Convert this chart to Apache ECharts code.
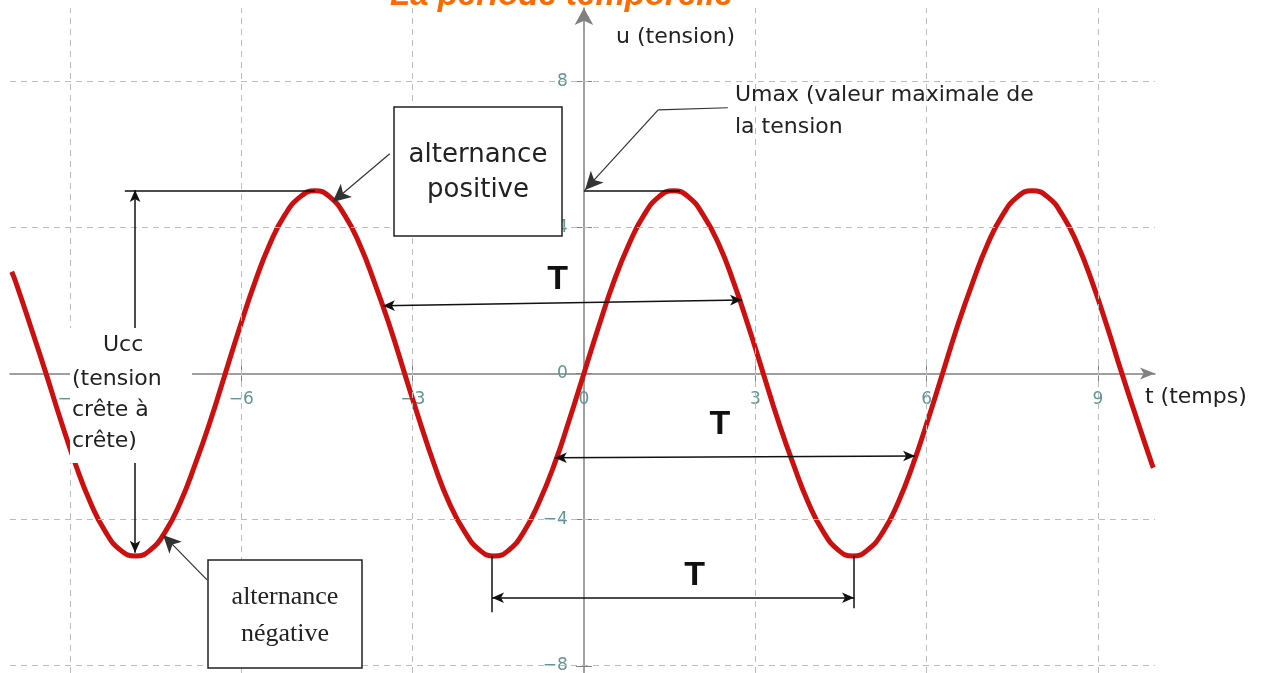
<!DOCTYPE html>
<html><head><meta charset="utf-8">
<script src="https://cdn.jsdelivr.net/npm/echarts@6/dist/echarts.min.js"></script>
<style>html,body{margin:0;padding:0;background:#fff}#c{width:1263px;height:673px}</style>
</head><body><div id="c"></div>
<script>
// ---- data ----
const tValues = [-10.02, -9.95, -9.69, -9.42, -9.16, -8.90, -8.64, -8.38, -8.12, -7.85, -7.59, -7.33, -7.07, -6.81, -6.54, -6.28, -6.02, -5.76, -5.50, -5.24, -4.97, -4.71, -4.45, -4.19, -3.93, -3.67, -3.40, -3.14, -2.88, -2.62, -2.36, -2.09, -1.83, -1.57, -1.31, -1.05, -0.79, -0.52, -0.26, 0, 0.26, 0.52, 0.79, 1.05, 1.31, 1.57, 1.83, 2.09, 2.36, 2.62, 2.88, 3.14, 3.40, 3.67, 3.93, 4.19, 4.45, 4.71, 4.97, 5.24, 5.50, 5.76, 6.02, 6.28, 6.54, 6.81, 7.07, 7.33, 7.59, 7.85, 8.12, 8.38, 8.64, 8.90, 9.16, 9.42, 9.69, 9.95, 9.97];
const uValues = [2.78, 2.5, 1.29, 0, -1.29, -2.5, -3.54, -4.33, -4.83, -5, -4.83, -4.33, -3.54, -2.5, -1.29, 0, 1.29, 2.5, 3.54, 4.33, 4.83, 5, 4.83, 4.33, 3.54, 2.5, 1.29, 0, -1.29, -2.5, -3.54, -4.33, -4.83, -5, -4.83, -4.33, -3.54, -2.5, -1.29, 0, 1.29, 2.5, 3.54, 4.33, 4.83, 5, 4.83, 4.33, 3.54, 2.5, 1.29, 0, -1.29, -2.5, -3.54, -4.33, -4.83, -5, -4.83, -4.33, -3.54, -2.5, -1.29, 0, 1.29, 2.5, 3.54, 4.33, 4.83, 5, 4.83, 4.33, 3.54, 2.5, 1.29, 0, -1.29, -2.5, -2.58];
const xTickLabels = [-9, -6, -3, 0, 3, 6, 9];
const yTickLabels = [-8, -4, 0, 4, 8];
const xGridValues = [-9, -6, -3, 3, 6, 9];
const yGridValues = [-8, -4, 4, 8];
const titleText = 'La période temporelle';
const yAxisName = 'u (tension)';
const xAxisName = 't (temps)';

const X_MIN = -10.05, X_MAX = 10.0, Y_MIN = -8.2, Y_MAX = 10;
const axisGrey = '#808080';
const tickColor = '#639494';
const fmtX = v => xTickLabels.indexOf(v) >= 0 ? String(v).replace('-', '\u2212') : '';
const fmtY = v => yTickLabels.indexOf(v) >= 0 ? String(v).replace('-', '\u2212') : '';

const seriesData = tValues.map((t, i) => [t, uValues[i]]);

function seg(a, b, endSym, startSym, size, style) {
  return [
    Object.assign({coord: a, symbol: startSym || 'none', symbolSize: size}, style ? {lineStyle: style} : {}),
    {coord: b, symbol: endSym || 'none', symbolSize: size}
  ];
}
const dimSize = [8, 12];
const callSize = [13, 18];
const thin = {color: '#333', width: 1.2, type: 'solid'};

const hiddenAxis = (grid, min, max) => ({type: 'value', gridIndex: grid, min: min, max: max, show: false, axisLine: {onZero: false}});
// Grid 1: same horizontal scale, bottom edge on the zero line -> x tick labels.
function tickX(inside, labels) {
  return {
    type: 'value', gridIndex: 1, min: -12, max: 12, interval: 3, position: 'bottom',
    axisLine: {show: false, onZero: false},
    axisTick: {show: true, inside: inside, length: 8, lineStyle: {color: axisGrey, width: 1}},
    axisLabel: {show: labels, formatter: fmtX, color: tickColor, fontSize: 17, fontFamily: 'DejaVu Sans', margin: 18},
    splitLine: {show: false}
  };
}
// Grid 2: same vertical scale, left edge on the zero line -> y tick labels.
function tickY(inside, labels) {
  return {
    type: 'value', gridIndex: 2, min: -12, max: 12, interval: 4, position: 'left',
    axisLine: {show: false, onZero: false},
    axisTick: {show: true, inside: inside, length: 8, lineStyle: {color: axisGrey, width: 1}},
    axisLabel: {show: labels, formatter: fmtY, color: tickColor, fontSize: 17, fontFamily: 'DejaVu Sans', margin: 16},
    splitLine: {show: false}
  };
}

const chart = echarts.init(document.getElementById('c'), null, {renderer: 'canvas', width: 1263, height: 673});
chart.setOption({
  animation: false,
  backgroundColor: '#ffffff',
  title: {
    text: titleText, left: 390, top: -21, padding: 0,
    textStyle: {color: '#ff6a00', fontSize: 33, fontStyle: 'italic', fontWeight: 'bold', fontFamily: 'Liberation Sans'}
  },
  grid: [
    {left: 10, right: 108, top: 8, bottom: 0, containLabel: false, outerBoundsMode: 'none'},
    {left: -101.2, right: -6.2, top: 0, bottom: 299.6, containLabel: false, outerBoundsMode: 'none'},
    {left: 583.9, right: 0, top: -65.1, bottom: -139, containLabel: false, outerBoundsMode: 'none'}
  ],
  xAxis: [{
    type: 'value', gridIndex: 0, min: X_MIN, max: X_MAX, position: 'bottom',
    axisLine: {show: true, onZero: true, onZeroAxisIndex: 0, symbol: ['none', 'arrow'], symbolSize: [9, 15], lineStyle: {color: axisGrey, width: 1.5}},
    axisTick: {show: false}, axisLabel: {show: false}, splitLine: {show: false}
  }, tickX(false, true), tickX(true, false), hiddenAxis(2, 0, 1)],
  yAxis: [{
    type: 'value', gridIndex: 0, min: Y_MIN, max: Y_MAX, position: 'left',
    axisLine: {show: true, onZero: true, onZeroAxisIndex: 0, symbol: ['none', 'arrow'], symbolSize: [14, 17], lineStyle: {color: axisGrey, width: 1.5}},
    axisTick: {show: false}, axisLabel: {show: false}, splitLine: {show: false}
  }, hiddenAxis(1, 0, 1), tickY(false, true), tickY(true, false)],
  series: [{
    // dashed grid
    type: 'line', xAxisIndex: 0, yAxisIndex: 0, data: [], silent: true, z: 1,
    markLine: {
      silent: true, symbol: 'none', animation: false,
      label: {show: false},
      lineStyle: {type: [6, 5], color: '#bcbcbc', width: 1},
      data: xGridValues.map(v => ({xAxis: v})).concat(yGridValues.map(v => ({yAxis: v})))
    }
  }, {
    // the voltage curve
    type: 'line', xAxisIndex: 0, yAxisIndex: 0, data: seriesData, smooth: true, showSymbol: false, silent: true, z: 3,
    lineStyle: {color: '#cc1010', width: 5}
  }, {
    // annotations tied to the data coordinates
    type: 'line', xAxisIndex: 0, yAxisIndex: 0, data: [], silent: true, z: 4,
    markLine: {
      silent: true, animation: false,
      label: {show: false},
      lineStyle: {type: 'solid', color: '#111', width: 1.5},
      itemStyle: {color: '#111'},
      data: [
        seg([-3.40, 6.01], [-4.40, 4.69], 'arrow', 'none', callSize, thin),
        seg([2.52, 7.27], [1.30, 7.21], 'none', 'none', callSize, thin),
        seg([1.30, 7.21], [0.02, 5.02], 'arrow', 'none', callSize, thin),
        seg([0, 5], [1.68, 5]),
        seg([-8.04, 5], [-4.71, 5]),
        seg([-7.86, 5.02], [-7.86, -4.91], 'arrow', 'arrow', dimSize),
        seg([-3.52, 1.85], [2.77, 2.01], 'arrow', 'arrow', dimSize),
        seg([-0.51, -2.31], [5.80, -2.26], 'arrow', 'arrow', dimSize),
        seg([-1.61, -5.0], [-1.61, -6.54]),
        seg([4.73, -5.0], [4.73, -6.43]),
        seg([-1.61, -6.14], [4.73, -6.14], 'arrow', 'arrow', dimSize),
        seg([-6.60, -5.65], [-7.37, -4.42], 'arrow', 'none', callSize, thin)
      ]
    },
    markPoint: {
      silent: true, animation: false,
      symbol: 'circle', symbolSize: 1, itemStyle: {color: 'rgba(0,0,0,0)'},
      label: {show: true, position: 'inside', formatter: 'T', color: '#111', fontSize: 34, fontWeight: 'bold', fontFamily: 'Liberation Sans'},
      data: [{coord: [-0.46, 2.56]}, {coord: [2.38, -1.41]}, {coord: [1.94, -5.54]}]
    }
  },
  {type: 'line', xAxisIndex: 1, yAxisIndex: 1, data: [], silent: true},
  {type: 'line', xAxisIndex: 3, yAxisIndex: 2, data: [], silent: true}],
  graphic: [
    {type: 'text', x: 616, y: 37, z: 100, style: {text: yAxisName, fontSize: 22, fontFamily: 'DejaVu Sans', fill: '#222', align: 'left', verticalAlign: 'middle'}},
    {type: 'text', x: 1145, y: 397, z: 100, style: {text: xAxisName, fontSize: 22, fontFamily: 'DejaVu Sans', fill: '#222', align: 'left', verticalAlign: 'middle'}},
    {type: 'text', x: 735, y: 79, z: 100, style: {text: 'Umax (valeur maximale de\nla tension', fontSize: 22, lineHeight: 32, fontFamily: 'DejaVu Sans', fill: '#222', align: 'left', verticalAlign: 'top'}},
    {type: 'rect', z: 100, shape: {x: 394, y: 107, width: 168, height: 129}, style: {fill: '#fff', stroke: '#222', lineWidth: 1.5}},
    {type: 'text', x: 478, y: 173, z: 101, style: {text: 'alternance\npositive', fontSize: 26, lineHeight: 35, fontFamily: 'DejaVu Sans', fill: '#222', align: 'center', verticalAlign: 'middle'}},
    {type: 'rect', z: 100, shape: {x: 208, y: 560, width: 154, height: 108}, style: {fill: '#fff', stroke: '#222', lineWidth: 1.5}},
    {type: 'text', x: 285, y: 616, z: 101, style: {text: 'alternance\nnégative', fontSize: 26, lineHeight: 37, fontFamily: 'Liberation Serif', fill: '#222', align: 'center', verticalAlign: 'middle'}},
    {type: 'rect', z: 100, shape: {x: 70, y: 328, width: 122, height: 135}, style: {fill: '#fff'}},
    {type: 'text', x: 103, y: 345, z: 101, style: {text: 'Ucc', fontSize: 22, fontFamily: 'DejaVu Sans', fill: '#222', align: 'left', verticalAlign: 'middle'}},
    {type: 'text', x: 72, y: 364, z: 101, style: {text: '(tension\ncrête à\ncrête)', fontSize: 22, lineHeight: 31, fontFamily: 'DejaVu Sans', fill: '#222', align: 'left', verticalAlign: 'top'}}
  ]
});
</script>
</body></html>
